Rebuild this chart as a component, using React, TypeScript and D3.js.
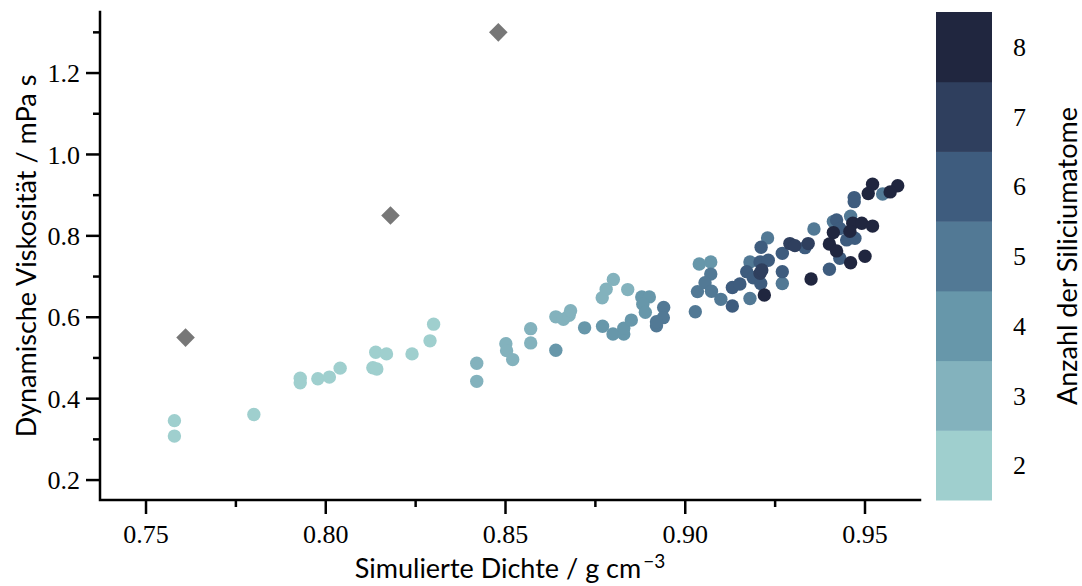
import React from "react";
import * as d3 from "d3";

// ---- data ----
const density: number[] = [
  // 2 Si
  0.7579, 0.7579, 0.78, 0.7929, 0.7929, 0.7978, 0.801, 0.804, 0.8131, 0.8142, 0.8139, 0.8169, 0.824, 0.829, 0.83,
  // 3 Si
  0.842, 0.842, 0.8501, 0.8503, 0.852, 0.857, 0.857, 0.864, 0.8661, 0.8677, 0.8681, 0.8769, 0.878, 0.88, 0.884,
  // 4 Si
  0.864, 0.872, 0.877, 0.8799, 0.8829, 0.8829, 0.885, 0.8879, 0.89, 0.8882, 0.8889, 0.9039, 0.9071,
  // 5 Si
  0.894, 0.8939, 0.892, 0.892, 0.9028, 0.9034, 0.9071, 0.9055, 0.9073, 0.9099, 0.918, 0.918, 0.9229, 0.927, 0.9358, 0.9549, 0.946, 0.9412,
  // 6 Si
  0.9211, 0.9131, 0.9131, 0.9152, 0.9171, 0.9189, 0.921, 0.9208, 0.9231, 0.927, 0.927, 0.9333, 0.947, 0.947, 0.9421, 0.943, 0.9472, 0.9449, 0.943, 0.9401,
  // 7 Si
  0.9208, 0.9213, 0.9291, 0.9305, 0.9342,
  // 8 Si
  0.922, 0.935, 0.9521, 0.9509, 0.9591, 0.957, 0.9412, 0.9466, 0.9491, 0.9521, 0.9458, 0.9401, 0.9421, 0.946, 0.95,
];
const viscosity: number[] = [
  0.346, 0.308, 0.361, 0.45, 0.439, 0.449, 0.453, 0.475, 0.476, 0.473, 0.514, 0.51, 0.51, 0.542, 0.583,
  0.487, 0.4425, 0.535, 0.518, 0.496, 0.572, 0.537, 0.601, 0.595, 0.605, 0.616, 0.648, 0.669, 0.693, 0.668,
  0.519, 0.574, 0.578, 0.559, 0.559, 0.573, 0.593, 0.65, 0.65, 0.632, 0.612, 0.731, 0.736,
  0.624, 0.599, 0.579, 0.589, 0.6135, 0.663, 0.706, 0.685, 0.664, 0.644, 0.646, 0.736, 0.795, 0.683, 0.817, 0.903, 0.848, 0.835,
  0.772, 0.6275, 0.673, 0.6816, 0.712, 0.697, 0.683, 0.736, 0.74, 0.757, 0.712, 0.771, 0.894, 0.884, 0.839, 0.818, 0.794, 0.79, 0.745, 0.718,
  0.708, 0.716, 0.781, 0.776, 0.781,
  0.6545, 0.694, 0.927, 0.904, 0.923, 0.908, 0.808, 0.831, 0.831, 0.824, 0.811, 0.78, 0.763, 0.734, 0.75,
];
const siCount: number[] = [
  ...Array(15).fill(2),
  ...Array(15).fill(3),
  ...Array(13).fill(4),
  ...Array(18).fill(5),
  ...Array(20).fill(6),
  ...Array(5).fill(7),
  ...Array(15).fill(8),
];

// experimental reference values (grey diamonds)
const refDensity: number[] = [0.761, 0.818, 0.848];
const refViscosity: number[] = [0.55, 0.85, 1.3];

const countLevels: number[] = [2, 3, 4, 5, 6, 7, 8];
const levelColors: string[] = ["#9fcfce", "#83b2bd", "#6797aa", "#527995", "#3e5c7e", "#2f3f5e", "#20263f"];

const xMajor: number[] = [0.75, 0.8, 0.85, 0.9, 0.95];
const xMinor: number[] = [0.775, 0.825, 0.875, 0.925];
const yMajor: number[] = [0.2, 0.4, 0.6, 0.8, 1.0, 1.2];
const yMinor: number[] = [0.3, 0.5, 0.7, 0.9, 1.1, 1.3];

const xTitle = "Simulierte Dichte / g cm";
const yTitle = "Dynamische Viskosität / mPa s";
const cbTitle = "Anzahl der Siliciumatome";

export default function App() {
  const W = 1082, H = 586;
  const left = 100, right = 920, top = 12, bottom = 500;
  const x = d3.scaleLinear().domain([0.7372, 0.9653]).range([left, right]);
  const y = d3.scaleLinear().domain([0.151, 1.35]).range([bottom, top]);
  const color = d3.scaleOrdinal<number, string>().domain(countLevels).range(levelColors);
  const cbX0 = 936, cbX1 = 992;
  const cb = d3.scaleBand<number>().domain([...countLevels].reverse()).range([top, bottom]).paddingInner(0);

  const pts = density
    .map((d, i) => ({ d, v: viscosity[i], n: siCount[i] }))
    .sort((a, b) => a.n - b.n);

  const serif = "'Liberation Serif', serif";
  const sans = "Lato, 'Open Sans', sans-serif";
  const diamond = d3.symbol().type(d3.symbolDiamond2).size(220)() as string;

  return (
    <svg width={W} height={H} style={{ position: "fixed", left: 0, top: 0, background: "#fff" }}>
      {/* points */}
      {pts.map((p, i) => (
        <circle key={i} cx={x(p.d)} cy={y(p.v)} r={6.7} fill={color(p.n)} />
      ))}
      {refDensity.map((d, i) => (
        <path key={"r" + i} d={diamond} transform={`translate(${x(d)},${y(refViscosity[i])})`} fill="#777777" />
      ))}

      {/* axes */}
      <g stroke="#000" strokeWidth={2.5} fill="none">
        <path d={`M${left},${top}V${bottom}H${right}`} strokeLinecap="square" />
        {xMajor.map((t) => (
          <line key={"xM" + t} x1={x(t)} x2={x(t)} y1={bottom} y2={bottom + 14} />
        ))}
        {xMinor.map((t) => (
          <line key={"xm" + t} x1={x(t)} x2={x(t)} y1={bottom} y2={bottom + 7} />
        ))}
        {yMajor.map((t) => (
          <line key={"yM" + t} x1={left - 14} x2={left} y1={y(t)} y2={y(t)} />
        ))}
        {yMinor.map((t) => (
          <line key={"ym" + t} x1={left - 7} x2={left} y1={y(t)} y2={y(t)} />
        ))}
      </g>
      <g fontFamily={serif} fontSize={26} fill="#000">
        {xMajor.map((t) => (
          <text key={"xl" + t} x={x(t)} y={543} textAnchor="middle">
            {t.toFixed(2)}
          </text>
        ))}
        {yMajor.map((t) => (
          <text key={"yl" + t} x={80} y={y(t)} dy="0.35em" textAnchor="end">
            {t.toFixed(1)}
          </text>
        ))}
        {countLevels.map((n) => (
          <text key={"cl" + n} x={1013} y={(cb(n) as number) + cb.bandwidth() / 2} dy="0.35em">
            {n}
          </text>
        ))}
      </g>

      {/* colorbar */}
      {countLevels.map((n) => (
        <rect key={"cb" + n} x={cbX0} y={cb(n) as number} width={cbX1 - cbX0} height={cb.bandwidth() + 0.5} fill={color(n)} />
      ))}

      {/* titles */}
      <g fontFamily={sans} fontSize={27} fill="#000">
        <text x={(left + right) / 2} y={578} textAnchor="middle">
          {xTitle}
          <tspan dx={2} dy={-10} fontSize={19}>−3</tspan>
        </text>
        <text transform={`translate(36,${(top + bottom) / 2}) rotate(-90)`} textAnchor="middle">
          {yTitle}
        </text>
        <text transform={`translate(1077,${(top + bottom) / 2}) rotate(-90)`} textAnchor="middle">
          {cbTitle}
        </text>
      </g>
    </svg>
  );
}
